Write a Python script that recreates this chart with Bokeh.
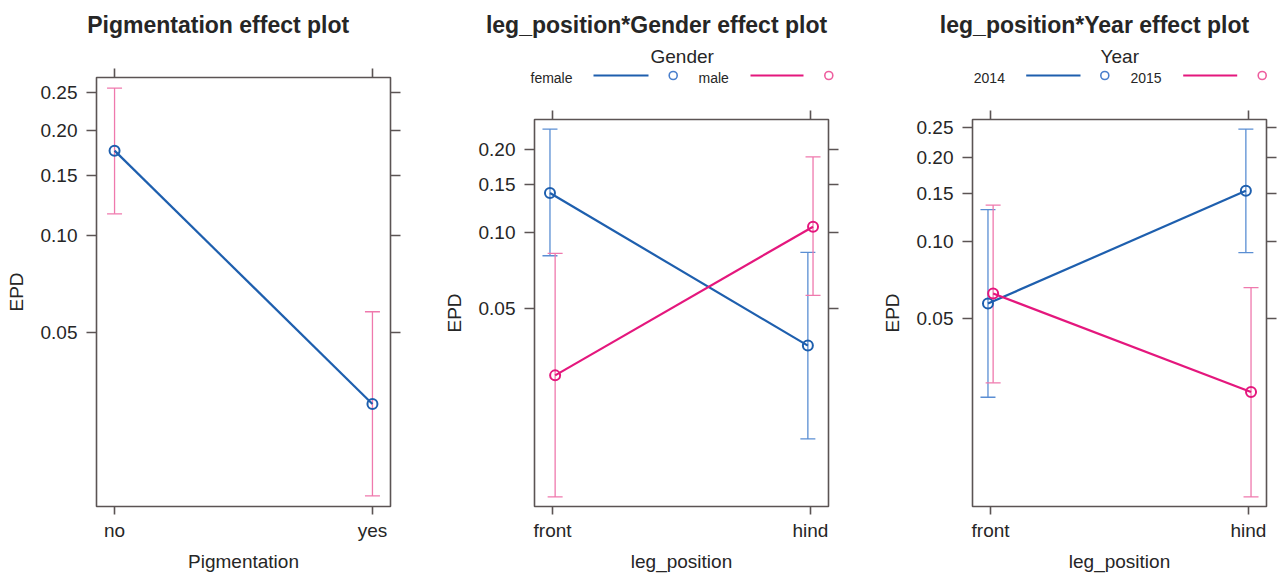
import numpy as np
from bokeh.plotting import figure
from bokeh.layouts import row, column
from bokeh.models import (Range1d, FixedTicker, LinearAxis, ColumnDataSource,
                          Whisker, TeeHead, CustomJSTickFormatter, Title)
from bokeh.embed import file_html
from bokeh.resources import INLINE
from bokeh.core.properties import value

# ---------------- data (probabilities) ----------------
pig_levels = ["no", "yes"]
pig_fit = [0.176, 0.0294]
pig_lower = [0.116, 0.0147]
pig_upper = [0.257, 0.0581]

leg_levels = ["front", "hind"]
gender_levels = ["female", "male"]
female_fit = [0.140, 0.0355]
female_lower = [0.0812, 0.0146]
female_upper = [0.233, 0.0837]
male_fit = [0.0268, 0.105]
male_lower = [0.00835, 0.0567]
male_upper = [0.0829, 0.188]

year_levels = ["2014", "2015"]
y2014_fit = [0.0573, 0.153]
y2014_lower = [0.0240, 0.0904]
y2014_upper = [0.131, 0.247]
y2015_fit = [0.0628, 0.0252]
y2015_lower = [0.0275, 0.0093]
y2015_upper = [0.136, 0.0662]

ticks_p1 = [0.05, 0.10, 0.15, 0.20, 0.25]
ticks_p2 = [0.05, 0.10, 0.15, 0.20]
ticks_p3 = [0.05, 0.10, 0.15, 0.20, 0.25]

# ---------------- styling ----------------
FONT = "Liberation Sans"
FRAME = "#5b5454"
TXT = "#262626"
BLUE, BLUE_CI, BLUE_LEG = "#1e5fae", "#5a8ed3", "#4a7fcc"
PINK, PINK_CI, PINK_LEG = "#e4177d", "#ef79ad", "#ee5f9f"
XR = (0.93, 2.07)


def logit(p):
    p = np.asarray(p, dtype=float)
    return np.log(p / (1.0 - p))


def style_axis(ax, tick_out, labels=True):
    ax.axis_line_color = None
    ax.major_tick_in = 0
    ax.major_tick_out = tick_out
    ax.minor_tick_in = 0
    ax.minor_tick_out = 0
    ax.major_tick_line_color = FRAME
    ax.major_tick_line_width = 1.6
    ax.major_label_text_font = FONT
    ax.major_label_text_font_size = "19px"
    ax.major_label_text_color = TXT
    ax.axis_label_text_font = FONT
    ax.axis_label_text_font_size = "19px"
    ax.axis_label_text_font_style = "normal"
    ax.axis_label_text_color = TXT
    if not labels:
        ax.formatter = CustomJSTickFormatter(code="return '';")
        ax.major_label_text_font_size = "1px"
        ax.major_label_standoff = 0


def main_fig(width, height, left, right, top, bottom, lows, highs, levels, xlabel, ticks):
    lo = float(np.min(logit(lows)))
    hi = float(np.max(logit(highs)))
    pad = 0.026 * (hi - lo)
    p = figure(width=width, height=height, output_backend="svg", toolbar_location=None,
               x_range=Range1d(*XR), y_range=Range1d(lo - pad, hi + pad),
               min_border_left=left, min_border_right=right,
               min_border_top=top, min_border_bottom=bottom)
    p.xgrid.visible = False
    p.ygrid.visible = False
    p.outline_line_color = FRAME
    p.outline_line_width = 1.6

    ytick_vals = [float(v) for v in logit(ticks)]
    xtick_vals = [1, 2]

    ya = p.yaxis[0]
    ya.ticker = FixedTicker(ticks=ytick_vals)
    ya.formatter = CustomJSTickFormatter(code="return (1/(1+Math.exp(-tick))).toFixed(2);")
    ya.axis_label = "EPD"
    style_axis(ya, 10)
    ya.major_label_standoff = 9
    ya.axis_label_standoff = 11

    xa = p.xaxis[0]
    xa.ticker = FixedTicker(ticks=xtick_vals)
    xa.major_label_overrides = {1: levels[0], 2: levels[1]}
    style_axis(xa, 8)
    xa.major_label_standoff = 5

    p.add_layout(Title(text=xlabel, align="center", text_font=FONT, text_font_size="19px",
                       text_font_style="normal", text_color=TXT, standoff=10), "below")

    top_ax = LinearAxis(ticker=FixedTicker(ticks=xtick_vals))
    style_axis(top_ax, 9, labels=False)
    p.add_layout(top_ax, "above")
    right_ax = LinearAxis(ticker=FixedTicker(ticks=ytick_vals))
    style_axis(right_ax, 10, labels=False)
    p.add_layout(right_ax, "right")
    return p


def series(p, offset, fit, lower, upper, line_color, ci_color):
    xs = [1 + offset, 2 + offset]
    src = ColumnDataSource(dict(x=xs, y=logit(fit), lo=logit(lower), hi=logit(upper)))
    w = Whisker(source=src, base="x", lower="lo", upper="hi",
                line_color=ci_color, line_width=1.3,
                upper_head=TeeHead(size=15, line_color=ci_color, line_width=1.3),
                lower_head=TeeHead(size=15, line_color=ci_color, line_width=1.3))
    p.add_layout(w)
    p.line("x", "y", source=src, line_color=line_color, line_width=2.2)
    p.scatter("x", "y", source=src, marker="circle", size=10, fill_color=None,
              line_color=line_color, line_width=2)


def header(width, height):
    h = figure(width=width, height=height, output_backend="svg", toolbar_location=None,
               x_range=Range1d(0, width), y_range=Range1d(height, 0), min_border=0,
               x_axis_location=None, y_axis_location=None)
    h.outline_line_color = None
    h.xgrid.visible = False
    h.ygrid.visible = False
    return h


def title_text(h, x, text):
    h.text(x=[x], y=[24.3], text=[text], text_font=value(FONT), text_font_size=value("23px"),
           text_font_style="bold", text_align="center", text_baseline="alphabetic",
           text_color=TXT)


def legend(h, title, cx, names, name_x, line_x0, line_x1, circ_x, colors, leg_colors):
    h.text(x=[cx], y=[55.7], text=[title], text_font=value(FONT), text_font_size=value("19px"),
           text_align="center", text_baseline="alphabetic", text_color=TXT)
    h.text(x=name_x, y=[77.1, 77.1], text=names, text_font=value(FONT),
           text_font_size=value("14px"), text_align="left", text_baseline="alphabetic",
           text_color=TXT)
    h.segment(x0=line_x0, y0=[75, 75], x1=line_x1, y1=[75, 75], line_color=colors,
              line_width=2.2)
    h.scatter(x=circ_x, y=[75, 75], marker="circle", size=8, fill_color=None,
              line_color=leg_colors, line_width=1.6)


# ---------------- panel 1 ----------------
h1 = header(430, 40)
title_text(h1, 217.7, "Pigmentation effect plot")
p1 = main_fig(430, 536, 96, 40, 37, 69, pig_lower, pig_upper, pig_levels,
              "Pigmentation", ticks_p1)
series(p1, 0.0, pig_fit, pig_lower, pig_upper, BLUE, PINK_CI)

# ---------------- panel 2 ----------------
h2 = header(430, 88)
title_text(h2, 226, "leg_position*Gender effect plot")
legend(h2, "Gender", 251.7, gender_levels, [100, 268], [163, 320], [218, 373],
       [242.7, 398.3], [BLUE, PINK], [BLUE_LEG, PINK_LEG])
p2 = main_fig(430, 488, 104, 32, 31, 69, female_lower + male_lower,
              female_upper + male_upper, leg_levels, "leg_position", ticks_p2)
series(p2, -0.01, female_fit, female_lower, female_upper, BLUE, BLUE_CI)
series(p2, 0.01, male_fit, male_lower, male_upper, PINK, PINK_CI)

# ---------------- panel 3 ----------------
h3 = header(417, 88)
title_text(h3, 234, "leg_position*Year effect plot")
legend(h3, "Year", 259.3, year_levels, [113.3, 270], [165.7, 322.7], [220, 376.7],
       [244.3, 401.7], [BLUE, PINK], [BLUE_LEG, PINK_LEG])
p3 = main_fig(417, 488, 112, 11, 31, 69, y2014_lower + y2015_lower,
              y2014_upper + y2015_upper, leg_levels, "leg_position", ticks_p3)
series(p3, -0.01, y2014_fit, y2014_lower, y2014_upper, BLUE, BLUE_CI)
series(p3, 0.01, y2015_fit, y2015_lower, y2015_upper, PINK, PINK_CI)

layout = row(column(row(h1), row(p1)), column(row(h2), row(p2)), column(row(h3), row(p3)))
open("out.html", "w").write(file_html(layout, INLINE))
